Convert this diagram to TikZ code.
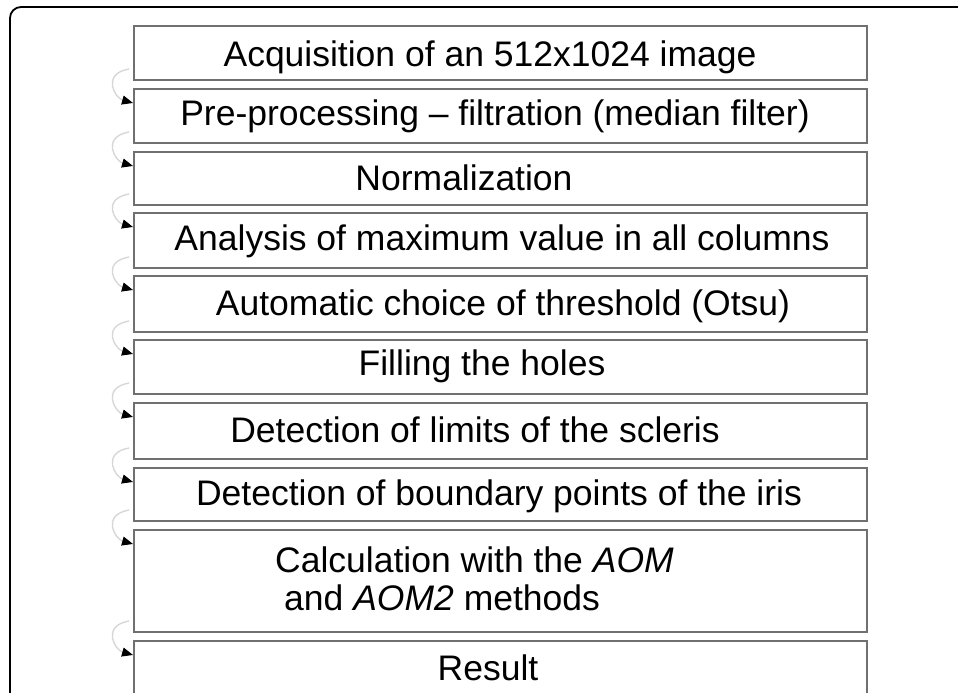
\documentclass[tikz,border=0pt]{standalone}
\usepackage{fontspec}
\setmainfont{Liberation Sans}
\usetikzlibrary{arrows.meta,calc}
\definecolor{boxgray}{RGB}{112,112,112}
\definecolor{arcgray}{RGB}{215,215,215}
\tikzset{
  stepbox/.style={draw=boxgray,line width=2pt,rectangle,minimum width=733pt,anchor=north west,inner sep=0pt},
  lbl/.style={anchor=base,inner sep=0pt,font=\fontsize{35.5}{40}\selectfont},
  lbll/.style={anchor=base west,inner sep=0pt,font=\fontsize{35.5}{40}\selectfont},
  conn/.style={draw=arcgray,line width=1.4pt,-{Triangle[length=11pt,width=9pt,color=black,fill=black]}}
}
\begin{document}
\begin{tikzpicture}[x=1pt,y=-1pt]
\useasboundingbox (0,0) rectangle (958,693);
\clip (0,0) rectangle (958,693);
\draw[line width=1.8pt,rounded corners=11pt] (10,720) -- (10,7) -- (980,7);
% boxes
\node[stepbox,minimum height=54pt] (b1) at (133,25) {};
\node[stepbox,minimum height=54pt] (b2) at (133,88) {};
\node[stepbox,minimum height=53pt] (b3) at (133,151) {};
\node[stepbox,minimum height=55pt] (b4) at (133,212) {};
\node[stepbox,minimum height=56pt] (b5) at (133,275) {};
\node[stepbox,minimum height=54pt] (b6) at (133,339) {};
\node[stepbox,minimum height=56pt] (b7) at (133,402) {};
\node[stepbox,minimum height=53pt] (b8) at (133,467) {};
\node[stepbox,minimum height=102pt] (b9) at (133,529) {};
\node[stepbox,minimum height=90pt] (b10) at (133,640) {};
% texts
\node[lbl] (t1) at (490,66.5) {Acquisition of an 512x1024 image};
\node[lbl] (t2) at (495,125) {Pre-processing – filtration (median filter)};
\node[lbl] (t3) at (464,190.5) {Normalization};
\node[lbl] (t4) at (502,250.5) {Analysis of maximum value in all columns};
\node[lbl] (t5) at (503,315) {Automatic choice of threshold (Otsu)};
\node[lbl] (t6) at (482,375) {Filling the holes};
\node[lbl] (t7) at (475,442) {Detection of limits of the scleris};
\node[lbl] (t8) at (499,505.5) {Detection of boundary points of the iris};
\node[lbll] (t9a) at (275,572) {Calculation with the \textit{AOM}};
\node[lbll] (t9b) at (284,610) {and \textit{AOM2} methods};
\node[lbl] (t10) at (488,680) {Result};
% connectors
\foreach \i/\j in {b1/b2,b2/b3,b3/b4,b4/b5,b5/b6,b6/b7,b7/b8,b8/b9,b9/b10}{
  \draw[conn] ($(\i.south west)+(-4,-12)$) .. controls +(-28,5) and +(-18,-5) .. ($(\j.north west)+(0,15)$);
}
\end{tikzpicture}
\end{document}
